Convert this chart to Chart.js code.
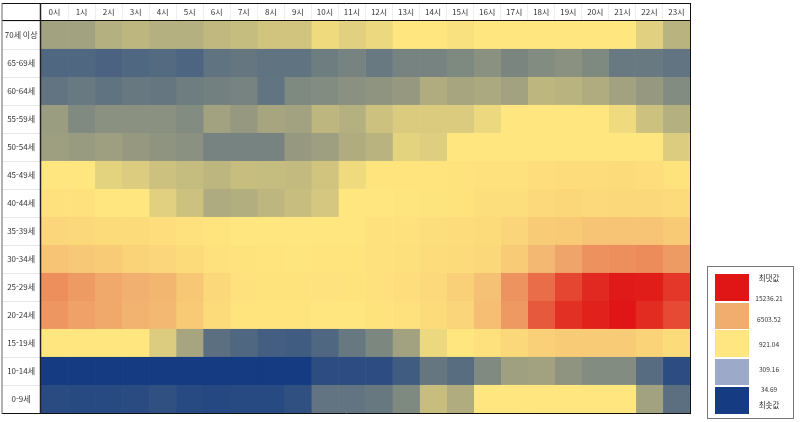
<!DOCTYPE html>
<html lang="ko">
<head>
<meta charset="utf-8">
<title>시간대별 연령대 히트맵</title>
<script src="https://cdn.jsdelivr.net/npm/chart.js"></script>
<style>
  html, body { margin: 0; background: #fff; }
  #wrap { position: relative; width: 800px; height: 422px; overflow: hidden; }
  #legend { position: absolute; left: 707px; top: 266px; width: 85px; height: 151px; border: 1px solid #777; box-sizing: content-box; font: 6.6px "Noto Sans CJK KR", sans-serif; color: #333; }
  #legend .sw { position: absolute; left: 7px; width: 34px; }
  #legend .tx { position: absolute; left: 41px; width: 40px; text-align: center; line-height: 12px; }
  #legend .tx.nome { font-size: 7.5px; }
</style>
</head>
<body>
<div id="wrap">
  <canvas id="heat" width="800" height="422"></canvas>
  <div id="legend"></div>
</div>
<script>
// ===== Dados
const horas = ['0시','1시','2시','3시','4시','5시','6시','7시','8시','9시','10시','11시','12시','13시','14시','15시','16시','17시','18시','19시','20시','21시','22시','23시'];
const idades = ['70세 이상','65-69세','60-64세','55-59세','50-54세','45-49세','40-44세','35-39세','30-34세','25-29세','20-24세','15-19세','10-14세','0-9세'];

const v70 = [567,567,637,673,637,637,682,700,744,744,859,806,850,921,921,894,921,921,921,921,921,921,806,655];
const v65 = [257,257,239,257,274,248,319,336,319,319,372,407,354,407,407,434,478,416,451,478,434,354,354,327];
const v60 = [327,354,319,345,336,372,389,407,327,434,451,478,496,522,620,584,602,567,673,655,620,567,522,451];
const v55 = [540,443,478,478,478,451,567,522,584,567,673,637,726,779,779,779,850,921,921,921,921,859,726,637];
const v50 = [549,531,549,522,496,478,407,407,407,522,549,620,655,815,797,921,921,921,921,921,921,921,921,788];
const v45 = [921,921,815,788,726,700,673,708,700,691,744,859,1088,1088,1088,1200,1368,1368,1758,1870,1926,2037,1758,1200];
const v40 = [1479,1368,921,921,806,726,611,629,673,708,762,921,921,1033,1144,1200,1702,1702,2149,2428,2205,2317,2317,2037];
const v35 = [2484,2317,2037,2037,1758,1368,1088,921,921,921,921,921,1368,1479,1702,1814,2037,2596,3433,3712,4270,4270,4270,3712];
const v30 = [4270,3824,3433,2875,2484,2037,1479,1200,1088,1033,1088,1088,1479,1647,1814,2037,2317,3433,5387,6940,8075,8250,8424,7551];
const v25 = [8250,7551,6765,6224,5666,3991,2317,1479,1256,1200,1312,1256,1479,1758,2149,3154,4549,7988,10171,12441,14101,14974,14799,13315];
const v20 = [7813,7202,6765,5945,5387,3712,2037,1088,1088,1088,921,921,1200,1479,2037,2596,4828,7638,11306,13664,14537,15236,13926,12180];
const v15 = [921,921,921,921,788,584,301,257,212,203,257,345,425,567,850,921,1479,2317,3154,3433,3433,3433,2875,2037];
const v10 = [35,35,35,35,35,35,35,35,35,35,124,124,124,203,336,292,443,558,567,496,451,451,283,124];
const v0  = [115,106,106,115,141,106,97,106,106,141,327,327,345,434,708,620,921,921,921,921,921,921,567,301];

const linhas = [v70,v65,v60,v55,v50,v45,v40,v35,v30,v25,v20,v15,v10,v0];

const escalaValores = [34.69, 921.04, 6503.52, 15236.21];
const escalaCores = [[21,60,130],[255,230,126],[240,173,110],[224,21,21]];

const legendaTextos = ['최댓값','15236.21','6503.52','921.04','309.16','34.69','최솟값'];
const legendaCores = ['#e01515','#f0ad6e','#ffe680','#9ca9c8','#153c82'];

// ===== Cor de cada célula
function corDe(v) {
  let i = 0;
  while (i < escalaValores.length - 2 && v > escalaValores[i + 1]) i++;
  const t = Math.min(1, Math.max(0, (v - escalaValores[i]) / (escalaValores[i + 1] - escalaValores[i])));
  const a = escalaCores[i], b = escalaCores[i + 1];
  return `rgb(${a.map((c, k) => Math.round(c + (b[k] - c) * t)).join(',')})`;
}

// um dataset por hora, barra flutuante [h, h+1] em cada faixa etária
const datasets = horas.map((h, col) => ({
  label: h,
  data: idades.map(() => [col, col + 1]),
  backgroundColor: linhas.map(l => corDe(l[col])),
  borderColor: linhas.map(l => corDe(l[col])),
  borderWidth: 0.4,
  borderSkipped: false,
  barPercentage: 1,
  categoryPercentage: 1,
  grouped: false,
  xAxisID: 'x',
  yAxisID: 'y'
}));

// ===== Moldura da tabela
const moldura = {
  id: 'moldura',
  afterDraw(chart) {
    const { ctx, chartArea: a } = chart;
    ctx.save();
    ctx.lineWidth = 1;
    ctx.strokeStyle = '#111';
    ctx.beginPath();
    ctx.moveTo(2, 3.5); ctx.lineTo(a.right + 1, 3.5);
    ctx.moveTo(2, a.top - 0.5); ctx.lineTo(a.right + 1, a.top - 0.5);
    ctx.moveTo(a.right + 0.5, 3); ctx.lineTo(a.right + 0.5, a.bottom + 1);
    ctx.moveTo(2, a.bottom + 0.5); ctx.lineTo(a.right + 1, a.bottom + 0.5);
    ctx.stroke();
    ctx.strokeStyle = '#666';
    ctx.beginPath();
    ctx.moveTo(2, 3); ctx.lineTo(2, a.bottom + 1);
    ctx.stroke();
    ctx.lineWidth = 1.5;
    ctx.strokeStyle = '#222';
    ctx.beginPath();
    ctx.moveTo(a.left - 0.5, 3); ctx.lineTo(a.left - 0.5, a.bottom + 1);
    ctx.stroke();
    ctx.restore();
  }
};

const fonte = { family: '"Noto Sans CJK KR", sans-serif', size: 8 };

new Chart(document.getElementById('heat'), {
  type: 'bar',
  data: { labels: idades, datasets },
  options: {
    indexAxis: 'y',
    responsive: false,
    animation: false,
    layout: { padding: { left: 3, top: 4, right: 110, bottom: 9 } },
    plugins: { legend: { display: false }, tooltip: { enabled: false } },
    scales: {
      x: { type: 'linear', min: 0, max: 24, display: false },
      horas: {
        type: 'category',
        axis: 'x',
        position: 'top',
        labels: horas,
        offset: true,
        border: { display: false },
        grid: { drawOnChartArea: false, color: '#efefef', tickLength: 17, offset: true },
        ticks: { color: '#333', font: fonte, maxRotation: 0, autoSkip: false, padding: -13 },
        afterFit(s) { s.height = 17; }
      },
      y: {
        type: 'category',
        offset: true,
        border: { display: false },
        grid: { drawOnChartArea: false, color: '#e6e6e6', tickLength: 38, offset: true },
        ticks: { color: '#333', font: fonte, autoSkip: false, padding: -34.5, crossAlign: 'center' },
        afterFit(s) { s.width = 38; }
      }
    }
  },
  plugins: [moldura]
});

// ===== Legenda
const legenda = document.getElementById('legend');
const topoSw = [7, 36, 63, 92, 120];
const altSw = [27, 26, 27, 26, 27];
const topoTx = [5, 25, 46, 71, 96, 116, 132];
legendaCores.forEach((c, i) => {
  const d = document.createElement('div');
  d.className = 'sw';
  d.style.top = topoSw[i] + 'px';
  d.style.height = altSw[i] + 'px';
  d.style.background = c;
  legenda.appendChild(d);
});
legendaTextos.forEach((t, i) => {
  const d = document.createElement('div');
  d.className = (i === 0 || i === legendaTextos.length - 1) ? 'tx nome' : 'tx';
  d.style.top = topoTx[i] + 'px';
  d.textContent = t;
  legenda.appendChild(d);
});
</script>
</body>
</html>
